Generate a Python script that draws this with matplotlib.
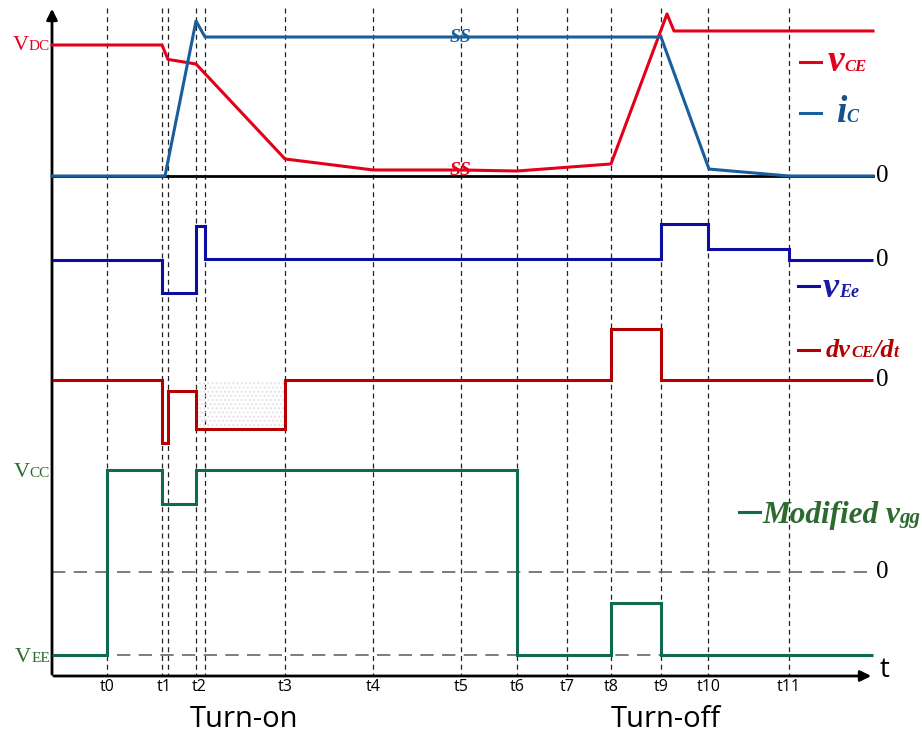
import matplotlib
matplotlib.use("Agg")
import matplotlib.pyplot as plt

# time instants (dashed markers), in time-axis units
t_marks = [107, 162, 168, 196, 205, 285, 373, 461, 517, 567, 611, 661, 708, 789]
t_labels = ['t0', 't1', 't2', 't3', 't4', 't5', 't6', 't7', 't8', 't9', 't10', 't11']
t_label_at = [107, 164, 199, 285, 373, 461, 517, 567, 611, 661, 709, 789]
t_start, t_end = 52, 873

# collector-emitter voltage (per unit of VDC) and collector current
vce_t = [52, 162, 168, 196, 285, 373, 461, 517, 611, 667, 674, 873]
vce_v = [1.0, 1.0, 0.89, 0.855, 0.13, 0.046, 0.046, 0.038, 0.092, 1.237, 1.107, 1.107]
ic_t = [52, 165, 196, 205, 661, 709, 789, 873]
ic_v = [0.0, 0.0, 1.183, 1.061, 1.061, 0.053, 0.0, 0.0]

# emitter stray inductance voltage (steps)
vee_edges = [52, 162, 196, 205, 661, 708, 789, 873]
vee_v = [0.0, -1.0, 1.03, 0.03, 1.09, 0.33, 0.0]

# dvCE/dt (steps)
dv_edges = [52, 162, 168, 196, 285, 611, 661, 873]
dv_v = [0.0, -1.26, -0.22, -0.98, 0.0, 1.02, 0.0]

# modified gate voltage in volts (steps)
VCC, VEE = 15.0, -12.2
vgg_edges = [52, 107, 162, 196, 517, 611, 661, 873]
vgg_v = [VEE, VCC, 10.0, VCC, VEE, -4.5, VEE]

# panel baselines / scales on the figure
top0, top_k = 176, 131
vee0, vee_k = 260, 33
dv0, dv_k = 380, 50
vgg0, vgg_k = 572, 6.8
axis_y = 676

c_vce = '#e3001b'
c_ic = '#1b5e9e'
c_vee = '#0d0da2'
c_dv = '#b50000'
c_vgg = '#0e6b52'
c_vgg_txt = '#2c6a2e'

serif = 'Liberation Serif'
sans = 'Open Sans'

fig = plt.figure(figsize=(9.22, 7.35), dpi=100)
ax = fig.add_axes([0, 0, 1, 1])
ax.set_xlim(0, 922)
ax.set_ylim(735, 0)
ax.axis('off')
renderer = fig.canvas.get_renderer()


def rich(x, y, parts, color, ha='left'):
    texts = []
    for s, size, bold, italic in parts:
        t = ax.text(x, y, s, color=color, fontsize=size, family=serif,
                    fontweight='bold' if bold else 'normal',
                    fontstyle='italic' if italic else 'normal',
                    va='baseline', ha='left')
        x += t.get_window_extent(renderer).width
        texts.append(t)
    if ha == 'right':
        total = x - texts[0].get_position()[0]
        for t in texts:
            px, py = t.get_position()
            t.set_position((px - total, py))


# dashed time markers
for tm in t_marks:
    ax.plot([tm, tm], [8, axis_y], color='#222222', lw=0.9, dashes=(4, 3), zorder=1)
for lab, pos in zip(t_labels, t_label_at):
    ax.text(pos, 687, lab, ha='center', va='center', fontsize=11.5, family=sans)

# horizontal reference lines for vgg
ax.plot([t_start, t_end], [vgg0, vgg0], color='#666666', lw=1.2, dashes=(8, 5), zorder=1)
ax.plot([t_start, t_end], [vgg0 - vgg_k * VEE] * 2, color='#666666', lw=1.2,
        dashes=(8, 5), zorder=1)

# axes with arrows
ax.plot([t_start, t_end], [top0, top0], color='k', lw=2, zorder=2)
ax.annotate('', xy=(t_start, 6), xytext=(t_start, axis_y + 1),
            arrowprops=dict(arrowstyle='-|>', lw=2, color='k', mutation_scale=16))
ax.annotate('', xy=(t_end + 1, axis_y), xytext=(t_start - 1, axis_y),
            arrowprops=dict(arrowstyle='-|>', lw=2, color='k', mutation_scale=16))
ax.text(880, 677, 't', fontsize=20, family=sans, va='baseline', ha='left')

# shaded region under dv/dt plateau
ax.fill_between([196, 285], dv0 + 1, dv0 - dv_k * dv_v[3], facecolor='none',
                hatch='....', edgecolor='#e4e4e4', linewidth=0, zorder=1)

# waveforms
ax.plot(vce_t, [top0 - top_k * v for v in vce_v], color=c_vce, lw=2.2, zorder=3)
ax.plot(ic_t, [top0 - top_k * v for v in ic_v], color=c_ic, lw=2.2, zorder=3)
ax.stairs([vee0 - vee_k * v for v in vee_v], vee_edges, baseline=None,
          edgecolor=c_vee, lw=2.2, zorder=3)
ax.stairs([dv0 - dv_k * v for v in dv_v], dv_edges, baseline=None,
          edgecolor=c_dv, lw=2.2, zorder=3)
ax.stairs([vgg0 - vgg_k * v for v in vgg_v], vgg_edges, baseline=None,
          edgecolor=c_vgg, lw=2.2, zorder=3)

# break marks
for yb, col in [(top0 - top_k * ic_v[3], c_ic), (top0 - top_k * vce_v[5], c_vce)]:
    ax.text(461, yb + 5, 'SS', color=col, fontsize=14, family=serif, fontweight='bold',
            fontstyle='italic', ha='center', va='baseline', zorder=4)

# zero labels on the right
for y0 in [top0, vee0, dv0, vgg0]:
    ax.text(876, y0, '0', fontsize=18, family=serif, ha='left', va='center')

# level labels on the left
rich(50, 50, [('V', 16, False, False), ('DC', 11, False, False)], c_vce, ha='right')
rich(50, 477, [('V', 16, False, False), ('CC', 11, False, False)], c_vgg_txt, ha='right')
rich(50, 662, [('V', 16, False, False), ('EE', 11, False, False)], c_vgg_txt, ha='right')

# legends
legend_items = [
    (800, 62, 828, 71, [('v', 27, True, True), ('CE', 12, True, True)], c_vce, c_vce),
    (800, 113, 836, 122, [('i', 27, True, True), ('C', 13, True, True)], c_ic, '#17518c'),
    (798, 286, 823, 297, [('v', 26, True, True), ('Ee', 13, True, True)], c_vee, '#1a1aa8'),
    (798, 350, 826, 357, [('dv', 19, True, True), ('CE', 12, True, True),
                          ('/d', 19, True, True), ('t', 13, True, True)], c_dv, c_dv),
    (739, 512, 762, 523, [('Modified v', 22.5, True, True), ('gg', 15, True, True)],
     c_vgg, c_vgg_txt),
]
for x0, yl, xt, yt, parts, lc, tc in legend_items:
    ax.plot([x0, x0 + 21], [yl, yl], color=lc, lw=2.2)
    rich(xt, yt, parts, tc)

ax.text(244, 727, 'Turn-on', fontsize=21, family=sans, ha='center', va='baseline')
ax.text(666, 727, 'Turn-off', fontsize=21, family=sans, ha='center', va='baseline')

fig.savefig('out.png', dpi=100)
